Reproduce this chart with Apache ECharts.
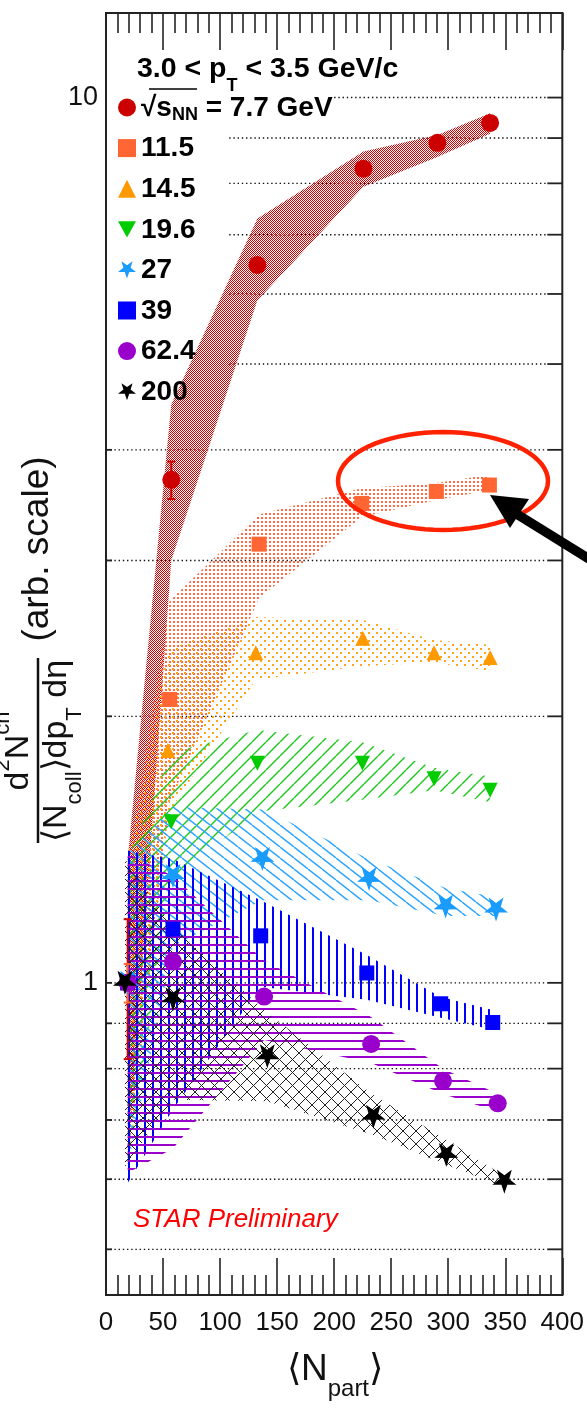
<!DOCTYPE html>
<html>
<head>
<meta charset="utf-8">
<script src="https://cdn.jsdelivr.net/npm/echarts@6/dist/echarts.min.js"></script>
<style>
  html, body { margin: 0; padding: 0; background: #fff; }
  #chart { width: 587px; height: 1409px; }
</style>
</head>
<body>
<div id="chart"></div>
<script>
// charged hadron yield per binary collision vs <Npart>, 3.0 < pT < 3.5 GeV/c
const energies = ['7.7', '11.5', '14.5', '19.6', '27', '39', '62.4', '200'];

const npart77 = [19, 57.2, 132.7, 225.7, 290.5, 336.7];
const yield77 = [1.0, 3.70, 6.47, 8.31, 8.89, 9.36];
const sysLo77 = [0.62, 3.0, 5.9, 7.93, 8.57, 9.1];
const sysHi77 = [1.38, 4.5, 7.3, 8.69, 9.07, 9.6];
const stat77 = [0.18, 0.18, 0, 0, 0, 0];

const npart115 = [19, 55.8, 134.2, 224.2, 289.6, 336.1];
const yield115 = [1.0, 2.09, 3.13, 3.48, 3.59, 3.65];
const sysLo115 = [0.62, 1.60, 2.72, 3.36, 3.51, 3.60];
const sysHi115 = [1.38, 2.70, 3.38, 3.62, 3.67, 3.75];
const stat115 = [0.05, 0, 0, 0, 0, 0];

const npart145 = [19, 54.3, 131.3, 225.1, 287.6, 336.7];
const yield145 = [1.0, 1.83, 2.36, 2.45, 2.36, 2.33];
const sysLo145 = [0.62, 1.55, 2.20, 2.28, 2.30, 2.25];
const sysHi145 = [1.38, 2.38, 2.59, 2.57, 2.44, 2.41];

const npart196 = [19, 57.2, 132.7, 224.8, 287.6, 336.7];
const yield196 = [1.0, 1.52, 1.77, 1.77, 1.70, 1.65];
const sysLo196 = [0.62, 1.30, 1.56, 1.61, 1.65, 1.60];
const sysHi196 = [1.38, 1.82, 1.93, 1.87, 1.75, 1.71];

const npart27 = [19, 58.7, 137.1, 230.6, 297.7, 341.9];
const yield27 = [1.0, 1.32, 1.38, 1.31, 1.22, 1.21];
const sysLo27 = [0.62, 1.10, 1.24, 1.24, 1.19, 1.19];
const sysHi27 = [1.40, 1.58, 1.57, 1.38, 1.28, 1.25];

const npart39 = [19, 58.7, 135.6, 228.6, 293.4, 339.0];
const yield39 = [1.0, 1.15, 1.13, 1.026, 0.947, 0.902];
const sysLo39 = [0.594, 0.72, 0.99, 0.957, 0.913, 0.885];
const sysHi39 = [1.41, 1.38, 1.24, 1.075, 0.964, 0.932];

const npart624 = [19, 58.7, 138.6, 232.4, 295.4, 343.4];
const yield624 = [1.0, 1.057, 0.965, 0.853, 0.775, 0.731];
const sysLo624 = [0.61, 0.65, 0.862, 0.812, 0.749, 0.715];
const sysHi624 = [1.40, 1.32, 1.06, 0.915, 0.80, 0.749];

const npart200 = [16.6, 58.7, 141.4, 234.4, 298.3, 349.2];
const yield200 = [1.0, 0.958, 0.826, 0.706, 0.639, 0.596];
const sysLo200 = [0.62, 0.738, 0.735, 0.673, 0.623, 0.588];
const sysHi200 = [1.38, 1.157, 0.925, 0.747, 0.665, 0.605];

const gridValues = [0.5, 0.6, 0.7, 0.8, 0.9, 1, 2, 3, 4, 5, 6, 7, 8, 9, 10];
const xTicks = [0, 400, 50];

const FONT = '"Liberation Sans", Arial, Helvetica, sans-serif';

const sets = [
  { x: npart77, y: yield77, lo: sysLo77, hi: sysHi77, err: stat77 },
  { x: npart115, y: yield115, lo: sysLo115, hi: sysHi115, err: stat115 },
  { x: npart145, y: yield145, lo: sysLo145, hi: sysHi145 },
  { x: npart196, y: yield196, lo: sysLo196, hi: sysHi196 },
  { x: npart27, y: yield27, lo: sysLo27, hi: sysHi27 },
  { x: npart39, y: yield39, lo: sysLo39, hi: sysHi39 },
  { x: npart624, y: yield624, lo: sysLo624, hi: sysHi624 },
  { x: npart200, y: yield200, lo: sysLo200, hi: sysHi200 }
];

const colors = ['#cc0000', '#ff6633', '#ff9900', '#00cc00', '#1a9cff', '#0000ff', '#9900cc', '#000000'];
const starPath = 'path://M0,10L2.35,3.24L9.51,3.09L3.8,-1.24L5.88,-8.09L0,-4L-5.88,-8.09L-3.8,-1.24L-9.51,3.09L-2.35,3.24Z';
const symbols = ['circle', 'rect', 'triangle', 'path://M0,0L10,0L5,9Z', starPath, 'rect', 'circle', starPath];
const symSizes = [18, 15, 15, 15, 24, 15, 18, 24];

// fill patterns for the systematic bands (roughly like the ROOT fill styles)
function makePattern(w, h, draw) {
  const c = document.createElement('canvas');
  c.width = w; c.height = h;
  draw(c.getContext('2d'), w, h);
  return { image: c, repeat: 'repeat' };
}
function hatch(color, lw, dirs) {
  return function (g, w, h) {
    g.strokeStyle = color; g.lineWidth = lw;
    dirs.forEach(d => {
      for (let k = -1; k <= 1; k++) {
        g.beginPath();
        if (d > 0) { g.moveTo(k * w, h); g.lineTo(k * w + w, 0); }
        else { g.moveTo(k * w, 0); g.lineTo(k * w + w, h); }
        g.stroke();
      }
    });
  };
}
const patterns = [
  makePattern(2, 2, g => { g.fillStyle = '#d20000'; g.fillRect(0, 0, 1, 1); g.fillRect(1, 1, 1, 1); }),
  makePattern(4, 4, g => { g.fillStyle = '#ff6a45'; g.fillRect(1, 1, 2, 2); }),
  makePattern(8, 8, g => { g.fillStyle = '#ffa31a'; g.fillRect(0, 0, 2, 2); g.fillRect(4, 4, 2, 2); }),
  makePattern(14, 14, hatch('#1ec81e', 1.4, [1])),
  makePattern(14, 11, hatch('#2aa4ff', 1.4, [-1])),
  makePattern(8, 1, g => { g.fillStyle = '#0000ff'; g.fillRect(0, 0, 2, 1); }),
  makePattern(1, 8, g => { g.fillStyle = '#9a00cc'; g.fillRect(0, 0, 1, 2); }),
  makePattern(13, 13, hatch('#222', 1, [1, -1]))
];

const bandSeries = sets.map((s, k) => ({
  type: 'custom',
  name: energies[k] + ' sys',
  silent: true,
  z: 2,
  data: s.x.map((x, i) => [x, s.lo[i], s.hi[i]]),
  renderItem: function (params, api) {
    if (params.dataIndex !== 0) return null;
    const up = s.x.map((x, i) => api.coord([x, s.hi[i]]));
    const dn = s.x.map((x, i) => api.coord([x, s.lo[i]])).reverse();
    return { type: 'polygon', shape: { points: up.concat(dn) }, style: { fill: patterns[k], stroke: null } };
  }
}));

const errSeries = sets.filter(s => s.err).map(s => ({
  type: 'custom',
  silent: true,
  z: 4,
  data: s.x.map((x, i) => [x, s.y[i], s.err[i]]),
  renderItem: function (params, api) {
    const e = api.value(2);
    if (!e) return null;
    const a = api.coord([api.value(0), api.value(1) + e]);
    const b = api.coord([api.value(0), api.value(1) - e]);
    const c = colors[sets.indexOf(s)];
    return {
      type: 'group', children: [
        { type: 'line', shape: { x1: a[0], y1: a[1], x2: b[0], y2: b[1] }, style: { stroke: c, lineWidth: 2 } },
        { type: 'line', shape: { x1: a[0] - 4, y1: a[1], x2: a[0] + 4, y2: a[1] }, style: { stroke: c, lineWidth: 2 } },
        { type: 'line', shape: { x1: b[0] - 4, y1: b[1], x2: b[0] + 4, y2: b[1] }, style: { stroke: c, lineWidth: 2 } }
      ]
    };
  }
}));

const pointSeries = sets.map((s, k) => ({
  type: 'scatter',
  name: energies[k],
  z: 5,
  symbol: symbols[k],
  symbolSize: symSizes[k],
  itemStyle: { color: colors[k], opacity: 1 },
  data: s.x.map((x, i) => [x, s.y[i]])
}));

// dotted horizontal grid with the ticks on the frame
const gridSeries = {
  type: 'custom',
  silent: true,
  z: 1,
  data: gridValues.map(v => [v]),
  renderItem: function (params, api) {
    const v = gridValues[params.dataIndex];
    const x0 = v >= 10 ? 200 : (v >= 5 ? 108 : 0);
    const a = api.coord([x0, v]);
    const b = api.coord([400, v]);
    const kids = [
      { type: 'line', shape: { x1: a[0], y1: a[1], x2: b[0] - 15, y2: b[1] }, style: { stroke: '#111', lineWidth: 1.4, lineDash: [1.4, 2.8] } },
      { type: 'line', shape: { x1: b[0] - 15, y1: b[1], x2: b[0], y2: b[1] }, style: { stroke: '#222', lineWidth: 1.8 } }
    ];
    if (x0 === 0) kids.push({ type: 'line', shape: { x1: a[0], y1: a[1], x2: a[0] + 6, y2: a[1] }, style: { stroke: '#222', lineWidth: 1.8 } });
    return { type: 'group', children: kids };
  }
};

function xAxisCfg(pos, labels) {
  return {
    type: 'value', position: pos, min: xTicks[0], max: xTicks[1], interval: xTicks[2],
    axisLine: { show: true, lineStyle: { color: '#222', width: 2 } },
    axisTick: { show: true, inside: true, length: 37, lineStyle: { color: '#222', width: 1.6 } },
    minorTick: { show: true, splitNumber: 5, length: 20, lineStyle: { color: '#222', width: 1.6 } },
    axisLabel: { show: labels, fontSize: 26, color: '#111', margin: 15, fontFamily: FONT },
    splitLine: { show: false }
  };
}

const ellipse = [];
for (let i = 0; i < 72; i++) {
  const t = i / 72 * Math.PI * 2;
  ellipse.push([443 + 105 * Math.cos(t), 481 + 49 * Math.sin(t)]);
}

const chart = echarts.init(document.getElementById('chart'), null, { renderer: 'canvas' });
chart.setOption({
  animation: false,
  backgroundColor: '#fff',
  grid: { left: 106, right: 22, top: 13, bottom: 114, show: true, borderColor: '#222', borderWidth: 2, backgroundColor: 'transparent' },
  xAxis: [xAxisCfg('bottom', true), xAxisCfg('top', false)],
  yAxis: {
    type: 'log', logBase: 10, min: 0.444, max: 12.46,
    axisLine: { show: true, lineStyle: { color: '#222', width: 2 } },
    axisTick: { show: false },
    axisLabel: { fontSize: 27, color: '#111', margin: 8, fontFamily: FONT, showMinLabel: false, showMaxLabel: false, formatter: v => String(+v.toFixed(3)) },
    splitLine: { show: false }
  },
  legend: {
    orient: 'vertical', left: 113, top: 86,
    itemWidth: 18, itemHeight: 18, itemGap: 7.6,
    data: energies,
    formatter: name => name === energies[0] ? '{b|√s}{s|NN}{b| = 7.7 GeV}' : '{b|' + name + '}{s| }',
    textStyle: {
      fontFamily: FONT,
      rich: {
        b: { fontSize: 28, fontWeight: 'bold', color: '#000', fontFamily: FONT, lineHeight: 33, verticalAlign: 'top', padding: [3, 0, 0, 0] },
        s: { fontSize: 18, fontWeight: 'bold', color: '#000', fontFamily: FONT, verticalAlign: 'bottom' }
      }
    }
  },
  graphic: [
    {
      type: 'text', x: 137, y: 55, silent: true,
      style: {
        text: '{b|3.0 < p}{s|T}{b| < 3.5 GeV/c}',
        rich: {
          b: { fontSize: 28.5, fontWeight: 'bold', fill: '#000', fontFamily: FONT, lineHeight: 40, verticalAlign: 'top' },
          s: { fontSize: 18, fontWeight: 'bold', fill: '#000', fontFamily: FONT, verticalAlign: 'bottom' }
        }
      }
    },
    { type: 'line', silent: true, shape: { x1: 149, y1: 89, x2: 197, y2: 89 }, style: { stroke: '#000', lineWidth: 1.6 } },
    {
      type: 'text', x: 133, y: 1220, silent: true,
      style: { text: 'STAR Preliminary', fill: '#ff0000', font: 'italic 26px ' + FONT, verticalAlign: 'middle' }
    },
    { type: 'polygon', silent: true, z: 10, shape: { points: ellipse }, style: { fill: null, stroke: '#ff2200', lineWidth: 4.5 } },
    { type: 'line', silent: true, z: 10, shape: { x1: 515, y1: 513, x2: 610, y2: 572 }, style: { stroke: '#000', lineWidth: 9.5 } },
    { type: 'polygon', silent: true, z: 10, shape: { points: [[490, 495], [529, 499], [510, 528]] }, style: { fill: '#000' } },
    {
      type: 'group', x: 38, y: 843, rotation: Math.PI / 2, silent: true,
      children: [
        { type: 'line', shape: { x1: 0, y1: 0, x2: 185, y2: 0 }, style: { stroke: '#111', lineWidth: 2.5 } },
        {
          type: 'text',
          style: {
            x: 92, y: -2, align: 'center', verticalAlign: 'bottom',
            text: '{m|d}{p|2}{m|N}{p|ch}',
            rich: {
              m: { fontSize: 34, fill: '#111', fontFamily: FONT, lineHeight: 44, verticalAlign: 'bottom' },
              p: { fontSize: 22, fill: '#111', fontFamily: FONT, verticalAlign: 'top' }
            }
          }
        },
        {
          type: 'text',
          style: {
            x: 92, y: 2, align: 'center', verticalAlign: 'top',
            text: '{m|⟨N}{b|coll}{m|⟩dp}{b|T}{m| dη}',
            rich: {
              m: { fontSize: 34, fill: '#111', fontFamily: FONT, lineHeight: 46, verticalAlign: 'top' },
              b: { fontSize: 22, fill: '#111', fontFamily: FONT, verticalAlign: 'bottom' }
            }
          }
        },
        { type: 'text', style: { x: 294, y: 0, align: 'center', verticalAlign: 'middle', text: '(arb. scale)', fill: '#111', font: '37px ' + FONT } }
      ]
    },
    {
      type: 'text', x: 335, y: 1351, silent: true,
      style: {
        align: 'center',
        text: '{m|⟨N}{s|part}{m|⟩}',
        rich: {
          m: { fontSize: 37, fill: '#111', fontFamily: FONT, lineHeight: 50, verticalAlign: 'top' },
          s: { fontSize: 24, fill: '#111', fontFamily: FONT, verticalAlign: 'bottom' }
        }
      }
    }
  ],
  series: [gridSeries].concat(bandSeries, errSeries, pointSeries)
});
</script>
</body>
</html>
